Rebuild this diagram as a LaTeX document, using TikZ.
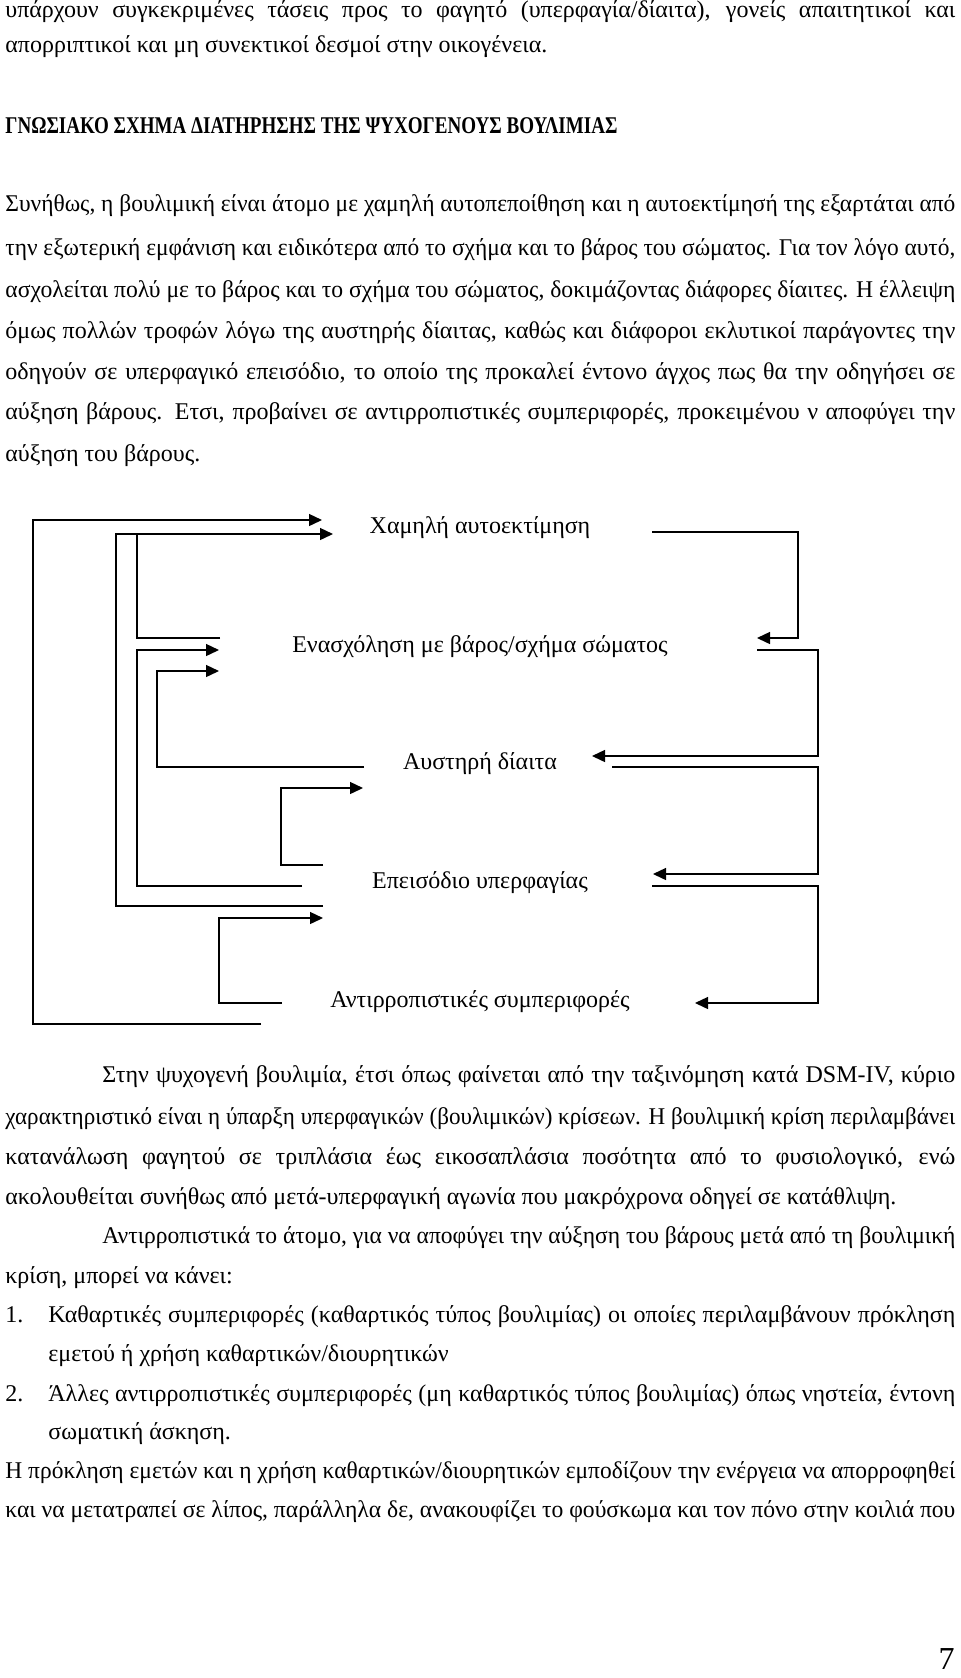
\documentclass[tikz,border=0pt]{standalone}
\usepackage{fontspec}
\setmainfont{Liberation Serif}
\usepackage{graphicx}
\usepackage{tikz}
\usetikzlibrary{arrows.meta,positioning}
\tikzstyle{txt}=[anchor=mid west,inner sep=0pt,
                 font=\fontsize{12}{14}\selectfont]
\tikzstyle{lbl}=[inner sep=0pt,text height=8pt,text depth=2pt,
                 font=\fontsize{12}{14}\selectfont]
\tikzstyle{flow}=[draw=black,line width=0.7pt,
                  -{Triangle[length=6.5pt,width=6pt]}]
\tikzstyle{link}=[draw=black,line width=0.7pt]
\newlength{\linewd}\setlength{\linewd}{475pt}
\newsavebox{\jbox}
% justified line: stretched, or squeezed if it is too long
\newcommand{\jline}[2][\linewd]{\sbox{\jbox}{#2}%
  \ifdim\wd\jbox>#1\relax\resizebox{#1}{\height}{\usebox{\jbox}}%
  \else\makebox[#1][s]{#2}\fi}

\begin{document}
\begin{tikzpicture}[x=0.5pt,y=-0.5pt]
    \path[fill=white,use as bounding box] (0,0) rectangle (960,1678);
    % text above the scheme
    \node[txt] (p1) at (5,13) {\jline{υπάρχουν συγκεκριμένες τάσεις προς το φαγητό (υπερφαγία/δίαιτα), γονείς απαιτητικοί και}};
    \node[txt] (p2) at (5,48) {απορριπτικοί και μη συνεκτικοί δεσμοί στην οικογένεια.};
    \node[txt] (title) at (5,129) {\resizebox{306pt}{\height}{\bfseries ΓΝΩΣΙΑΚΟ ΣΧΗΜΑ ΔΙΑΤΗΡΗΣΗΣ ΤΗΣ ΨΥΧΟΓΕΝΟΥΣ ΒΟΥΛΙΜΙΑΣ}};
    \node[txt] (q1) at (5,207) {\jline{Συνήθως, η βουλιμική είναι άτομο με χαμηλή αυτοπεποίθηση και η αυτοεκτίμησή της εξαρτάται από}};
    \node[txt] (q2) at (5,251) {\jline{την εξωτερική εμφάνιση και ειδικότερα από το σχήμα και το βάρος του σώματος. Για τον λόγο αυτό,}};
    \node[txt] (q3) at (5,293) {\jline{ασχολείται πολύ με το βάρος και το σχήμα του σώματος, δοκιμάζοντας διάφορες δίαιτες. Η έλλειψη}};
    \node[txt] (q4) at (5,334) {\jline{όμως πολλών τροφών λόγω της αυστηρής δίαιτας, καθώς και διάφοροι εκλυτικοί παράγοντες την}};
    \node[txt] (q5) at (5,375) {\jline{οδηγούν σε υπερφαγικό επεισόδιο, το οποίο της προκαλεί έντονο άγχος πως θα την οδηγήσει σε}};
    \node[txt] (q6) at (5,415) {\jline{αύξηση βάρους. Ετσι, προβαίνει σε αντιρροπιστικές συμπεριφορές, προκειμένου ν αποφύγει την}};
    \node[txt] (q7) at (5,457) {αύξηση του βάρους.};

    % the scheme
    \node[lbl] (esteem) at (480,527) {Χαμηλή αυτοεκτίμηση};
    \node[lbl,on grid,below=59.5pt of esteem] (weight) {Ενασχόληση με βάρος/σχήμα σώματος};
    \node[lbl,on grid,below=58.5pt of weight] (diet) {Αυστηρή δίαιτα};
    \node[lbl,on grid,below=59.5pt of diet] (binge) {Επεισόδιο υπερφαγίας};
    \node[lbl,on grid,below=59.5pt of binge] (comp) {Αντιρροπιστικές συμπεριφορές};

    % left side, back to the earlier steps
    \coordinate (comp-a) at (261,1024);  \coordinate (esteem-a) at (322,520);
    \coordinate (binge-b) at (323,906);  \coordinate (esteem-b) at (333,534);
    \coordinate (weight-c) at (220,638);
    \coordinate (binge-d) at (302,886);  \coordinate (weight-d) at (219,650);
    \coordinate (diet-e) at (364,767);   \coordinate (weight-e) at (219,671);
    \coordinate (binge-g) at (323,865);  \coordinate (diet-g) at (363,788);
    \coordinate (comp-h) at (282,1003);  \coordinate (binge-h) at (323,918);
    \draw[flow] (comp-a) -| (33,520) -- (esteem-a);
    \draw[flow] (binge-b) -| (116,534) -- (esteem-b);
    \draw[link] (weight-c) -| (137,534);
    \draw[flow] (binge-d) -| (137,650) -- (weight-d);
    \draw[flow] (diet-e) -| (157,671) -- (weight-e);
    \draw[flow] (binge-g) -| (281,788) -- (diet-g);
    \draw[flow] (comp-h) -| (219,918) -- (binge-h);

    % right side, down to the next step
    \coordinate (esteem-r) at (652,532); \coordinate (weight-r) at (757,638);
    \coordinate (weight-s) at (757,650); \coordinate (diet-s) at (592,756);
    \coordinate (diet-t) at (612,767);   \coordinate (binge-t) at (653,874);
    \coordinate (binge-u) at (652,886);  \coordinate (comp-u) at (695,1003);
    \draw[flow] (esteem-r) -| (798,638) -- (weight-r);
    \draw[flow] (weight-s) -| (818,756) -- (diet-s);
    \draw[flow] (diet-t) -| (818,874) -- (binge-t);
    \draw[flow] (binge-u) -| (818,1003) -- (comp-u);

    % text below the scheme
    \node[txt] (r1) at (102,1078) {\jline[426.5pt]{Στην ψυχογενή βουλιμία, έτσι όπως φαίνεται από την ταξινόμηση κατά DSM-IV, κύριο}};
    \node[txt] (r2) at (5,1120) {\jline{χαρακτηριστικό είναι η ύπαρξη υπερφαγικών (βουλιμικών) κρίσεων. Η βουλιμική κρίση περιλαμβάνει}};
    \node[txt] (r3) at (5,1160) {\jline{κατανάλωση φαγητού σε τριπλάσια έως εικοσαπλάσια ποσότητα από το φυσιολογικό, ενώ}};
    \node[txt] (r4) at (5,1200) {ακολουθείται συνήθως από μετά-υπερφαγική αγωνία που μακρόχρονα οδηγεί σε κατάθλιψη.};
    \node[txt] (r5) at (102,1239) {\jline[426.5pt]{Αντιρροπιστικά το άτομο, για να αποφύγει την αύξηση του βάρους μετά από τη βουλιμική}};
    \node[txt] (r6) at (5,1279) {κρίση, μπορεί να κάνει:};
    \node[txt] (n1) at (5,1318) {1.};
    \node[txt] (i1) at (48,1318) {\jline[453.5pt]{Καθαρτικές συμπεριφορές (καθαρτικός τύπος βουλιμίας) οι οποίες περιλαμβάνουν πρόκληση}};
    \node[txt] (i1b) at (48,1357) {εμετού ή χρήση καθαρτικών/διουρητικών};
    \node[txt] (n2) at (5,1397) {2.};
    \node[txt] (i2) at (48,1397) {\jline[453.5pt]{Άλλες αντιρροπιστικές συμπεριφορές (μη καθαρτικός τύπος βουλιμίας) όπως νηστεία, έντονη}};
    \node[txt] (i2b) at (48,1435) {σωματική άσκηση.};
    \node[txt] (s1) at (5,1474) {\jline{Η πρόκληση εμετών και η χρήση καθαρτικών/διουρητικών εμποδίζουν την ενέργεια να απορροφηθεί}};
    \node[txt] (s2) at (5,1513) {\jline{και να μετατραπεί σε λίπος, παράλληλα δε, ανακουφίζει το φούσκωμα και τον πόνο στην κοιλιά που}};
    \node[anchor=base east,inner sep=0pt,font=\fontsize{16}{18}\selectfont] (page) at (955,1669) {7};
\end{tikzpicture}
\end{document}
